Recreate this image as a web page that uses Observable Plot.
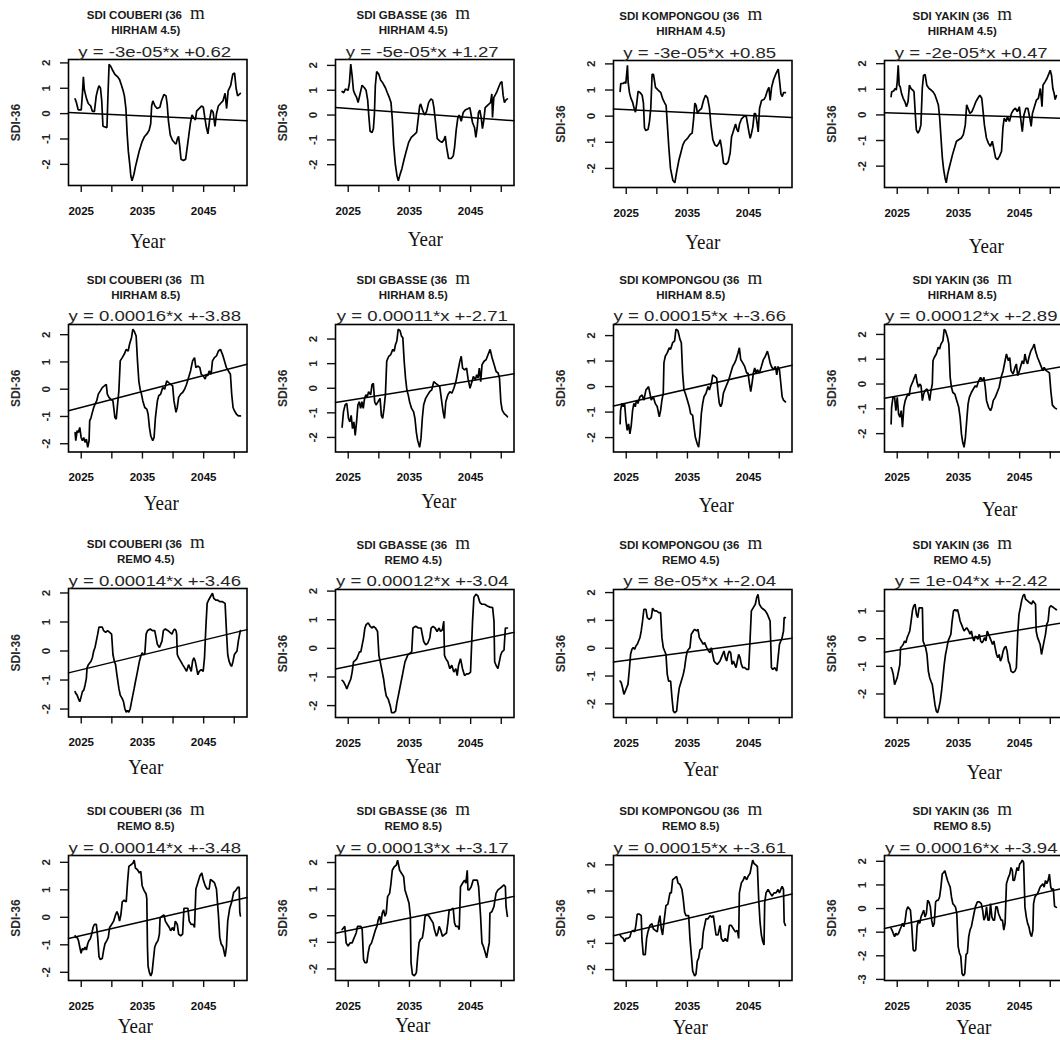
<!DOCTYPE html>
<html>
<head>
<meta charset="utf-8">
<script src="https://cdn.jsdelivr.net/npm/d3@7"></script>
<script src="https://cdn.jsdelivr.net/npm/@observablehq/plot@0.6"></script>
<style>
  html, body { margin: 0; padding: 0; background: #fff; }
  #page { position: relative; width: 1060px; height: 1040px; overflow: hidden; background: #fff; }
  #page > svg { position: absolute; }
  .title { font: bold 11.5px "Liberation Sans", Arial, sans-serif; fill: #1a1a1a; }
  .title .m { font: 19px "Liberation Serif", "Times New Roman", serif; }
  .eq { font: 15px "Liberation Sans", Arial, sans-serif; fill: #262626; }
  .year { font: 19px "Liberation Serif", "Times New Roman", serif; fill: #111; }
</style>
</head>
<body>
<div id="page"></div>
<script>
// SDI-36 projections, 2024-2051: [years since 2024, SDI value]
const START_YEAR = 2024;
const END_YEAR = 2051;

const catchments = ["COUBERI", "GBASSE", "KOMPONGOU", "YAKIN"];
const scenarios = ["HIRHAM 4.5", "HIRHAM 8.5", "REMO 4.5", "REMO 8.5"];

// linear trend per panel, x in days since 1970-01-01
const slopes = [
  [-3e-05, -5e-05, -3e-05, -2e-05],
  [0.00016, 0.00011, 0.00015, 0.00012],
  [0.00014, 0.00012, 8e-05, 1e-04],
  [0.00014, 0.00013, 0.00015, 0.00016]
];
const intercepts = [
  [0.62, 1.27, 0.85, 0.47],
  [-3.88, -2.71, -3.66, -2.89],
  [-3.46, -3.04, -2.04, -2.42],
  [-3.48, -3.17, -3.61, -3.94]
];

const xTickYears = [2025, 2030, 2035, 2040, 2045, 2050];
const xLabelYears = [2025, 2035, 2045];

const couberiHirham45 = [[0,0.58],[0.2,0.45],[0.5,0.15],[1.0,0.15],[1.2,0.8],[1.35,1.45],[1.5,0.95],[1.85,0.6],[2.15,0.4],[2.55,0.3],[2.8,0.1],[3.15,0.08],[3.45,0.7],[3.7,0.95],[3.9,1.1],[4.15,1.0],[4.35,0.5],[4.55,-0.5],[5.2,-0.55],[5.35,0.6],[5.55,1.95],[5.85,1.85],[6.15,1.7],[6.5,1.55],[6.95,1.45],[7.25,1.35],[7.6,1.1],[7.85,0.9],[8.05,0.7],[8.3,0.2],[8.5,-0.8],[8.7,-1.5],[8.95,-2.05],[9.1,-2.45],[9.3,-2.65],[9.6,-2.4],[9.85,-2.1],[10.15,-1.8],[10.5,-1.45],[10.95,-1.1],[11.35,-0.9],[11.8,-0.78],[12.1,-0.65],[12.35,-0.4],[12.5,0.3],[12.7,0.5],[13.05,0.3],[13.4,0.2],[13.85,0.25],[14.1,0.5],[14.5,0.75],[14.85,0.7],[15.05,0.35],[15.25,-0.3],[15.55,-0.85],[15.9,-1.05],[16.25,-1.15],[16.5,-1.2],[16.7,-1.0],[16.9,-0.9],[17.1,-1.3],[17.3,-1.8],[17.7,-1.85],[18.05,-1.8],[18.3,-1.35],[18.55,-0.9],[18.85,-0.35],[19.1,-0.05],[19.35,-0.15],[19.65,-0.25],[19.85,0.1],[20.25,0.2],[20.65,0.3],[20.95,0.25],[21.15,-0.1],[21.45,-0.55],[21.7,-0.8],[22.0,-0.2],[22.25,0.15],[22.55,0.05],[22.85,-0.5],[23.1,0.0],[23.4,0.3],[23.75,0.4],[24.15,0.5],[24.5,0.8],[24.75,0.2],[25.0,0.9],[25.4,1.1],[25.75,1.55],[26.05,1.6],[26.3,1.0],[26.55,0.7],[27.0,0.8]];

const gbasseHirham45 = [[0,0.95],[0.27,0.9],[0.54,1.05],[0.98,1.0],[1.2,1.3],[1.41,2.05],[1.63,1.6],[1.85,1.0],[2.07,0.85],[2.39,0.7],[2.61,0.5],[2.93,0.85],[3.26,1.2],[3.64,1.1],[3.91,1.0],[4.18,0.6],[4.35,0.0],[4.57,-0.65],[4.89,-0.7],[5.11,-0.55],[5.27,0.0],[5.43,1.2],[5.65,1.75],[5.98,1.65],[6.3,1.4],[6.63,1.3],[7.07,1.1],[7.39,0.9],[7.72,0.7],[7.99,0.5],[8.21,-0.2],[8.42,-1.2],[8.7,-2.0],[8.97,-2.45],[9.18,-2.65],[9.46,-2.4],[9.78,-2.15],[10.11,-1.8],[10.43,-1.5],[10.87,-1.1],[11.3,-0.9],[11.74,-0.8],[12.17,-0.7],[12.5,0.0],[12.66,0.35],[12.83,0.45],[13.15,0.2],[13.48,0.0],[13.8,0.15],[14.13,0.5],[14.51,0.65],[14.78,0.6],[15.0,0.3],[15.22,-0.2],[15.54,-0.95],[15.98,-1.05],[16.3,-1.1],[16.63,-1.0],[16.85,-0.85],[17.07,-1.3],[17.39,-1.75],[17.83,-1.75],[18.15,-1.65],[18.37,-1.3],[18.64,-0.6],[18.91,-0.1],[19.13,0.0],[19.46,-0.25],[19.78,0.1],[20.11,0.2],[20.54,0.25],[20.87,0.3],[21.09,0.0],[21.3,-0.3],[21.63,-0.5],[21.85,-0.9],[22.07,-0.5],[22.28,0.1],[22.5,0.2],[22.72,-0.1],[22.93,-0.55],[23.15,-0.2],[23.37,0.3],[23.8,0.4],[24.24,0.5],[24.46,0.85],[24.57,-0.1],[24.78,0.7],[25.22,0.9],[25.54,1.1],[25.87,1.3],[26.09,1.35],[26.3,0.8],[26.52,0.5],[26.74,0.6],[27.0,0.65]];

const kompongouHirham45 = [[0,0.95],[0.11,1.25],[0.49,1.25],[0.76,1.3],[0.93,1.25],[1.2,1.95],[1.31,1.3],[1.53,0.9],[1.74,0.7],[2.02,0.55],[2.29,0.3],[2.51,0.15],[2.72,0.5],[2.94,0.95],[3.27,0.9],[3.6,0.8],[3.81,0.5],[3.98,-0.45],[4.2,-0.55],[4.58,-0.5],[4.8,-0.2],[5.01,0.3],[5.23,1.6],[5.45,1.6],[5.78,1.1],[6.21,1.0],[6.65,0.9],[6.98,0.65],[7.3,0.5],[7.52,0.4],[7.74,-0.4],[7.96,-1.2],[8.23,-2.0],[8.61,-2.45],[8.94,-2.55],[9.26,-2.1],[9.59,-1.7],[9.92,-1.4],[10.25,-1.1],[10.57,-0.95],[11.01,-0.85],[11.44,-0.7],[11.77,-0.65],[11.99,-0.15],[12.21,0.5],[12.43,0.4],[12.64,0.1],[12.86,0.2],[13.3,0.3],[13.62,0.6],[13.95,0.8],[14.28,0.7],[14.6,0.3],[14.82,-0.3],[15.15,-0.9],[15.48,-1.1],[15.8,-1.15],[16.13,-1.05],[16.35,-0.9],[16.57,-1.2],[16.89,-1.8],[17.33,-1.85],[17.66,-1.75],[17.98,-1.4],[18.2,-0.8],[18.53,-0.55],[18.86,-0.3],[19.07,-0.5],[19.29,-0.6],[19.51,-0.3],[19.84,-0.1],[20.27,0.0],[20.6,0.0],[20.82,-0.3],[21.04,-0.6],[21.25,-0.85],[21.47,-0.65],[21.69,-0.4],[21.91,0.1],[22.13,0.1],[22.34,-0.2],[22.56,-0.6],[22.78,0.3],[23.11,0.6],[23.54,0.65],[23.76,0.75],[24.09,1.0],[24.31,1.1],[24.52,0.6],[24.74,1.1],[25.07,1.4],[25.5,1.65],[25.83,1.8],[26.05,1.35],[26.27,0.85],[26.49,0.75],[26.7,0.9],[27.0,0.9]];

const yakinHirham45 = [[0,0.71],[0.09,0.9],[0.41,0.93],[0.62,1.03],[0.84,0.97],[1.0,1.29],[1.16,1.94],[1.32,1.16],[1.48,1.1],[1.7,0.84],[1.97,0.65],[2.24,0.52],[2.51,0.32],[2.77,0.52],[2.99,1.16],[3.26,1.03],[3.53,0.97],[3.74,0.9],[3.96,0.0],[4.12,-0.58],[4.39,-0.71],[4.66,-0.58],[4.87,-0.39],[5.09,1.03],[5.3,1.55],[5.56,1.57],[5.83,1.16],[6.2,1.03],[6.54,0.97],[6.86,0.9],[7.18,0.77],[7.45,0.58],[7.72,0.39],[7.94,-0.13],[8.15,-0.9],[8.37,-1.68],[8.58,-2.13],[8.8,-2.45],[9.01,-2.65],[9.23,-2.32],[9.49,-2.06],[9.76,-1.81],[10.03,-1.55],[10.35,-1.29],[10.68,-1.03],[11.05,-0.97],[11.48,-0.9],[11.8,-0.77],[12.12,-0.39],[12.34,0.39],[12.56,0.26],[12.88,0.06],[13.2,0.13],[13.53,0.32],[13.85,0.52],[14.17,0.65],[14.49,0.77],[14.81,0.65],[15.03,0.13],[15.24,-0.39],[15.57,-0.9],[15.89,-1.1],[16.21,-1.23],[16.53,-1.03],[16.75,-1.29],[17.07,-1.68],[17.39,-1.74],[17.72,-1.61],[18.04,-1.42],[18.26,-0.52],[18.47,-0.13],[18.8,-0.26],[19.01,-0.06],[19.33,-0.26],[19.66,0.06],[19.98,0.19],[20.3,0.26],[20.62,0.13],[20.95,0.32],[21.16,-0.13],[21.43,-0.65],[21.7,0.0],[22.02,0.26],[22.34,0.26],[22.66,-0.13],[22.88,-0.45],[23.09,0.06],[23.41,0.32],[23.74,0.58],[24.06,0.65],[24.38,1.03],[24.65,0.32],[24.81,1.16],[25.14,1.29],[25.46,1.42],[25.78,1.61],[25.99,1.74],[26.2,1.55],[26.42,1.03],[26.63,0.84],[26.8,0.6],[27.0,0.75]];

const couberiHirham85 = [[0,-1.59],[0.11,-1.89],[0.33,-1.52],[0.54,-1.59],[0.76,-1.4],[0.98,-1.77],[1.19,-1.89],[1.41,-1.77],[1.63,-1.95],[1.84,-1.83],[2.06,-2.13],[2.28,-1.89],[2.38,-1.16],[2.6,-1.04],[2.82,-0.85],[3.04,-0.67],[3.25,-0.55],[3.52,-0.43],[3.79,-0.18],[4.12,-0.06],[4.44,0.06],[4.77,0.12],[5.09,0.18],[5.26,-0.18],[5.53,-0.3],[5.85,-0.37],[6.18,-0.43],[6.5,-1.04],[6.72,-1.1],[6.94,-0.55],[7.15,-0.06],[7.37,1.04],[7.7,1.16],[8.02,1.28],[8.35,1.46],[8.67,1.4],[8.89,1.65],[9.21,1.89],[9.43,2.2],[9.65,2.13],[9.97,1.95],[10.19,1.04],[10.41,0.3],[10.62,0.0],[10.84,-0.18],[11.06,-0.43],[11.38,-0.67],[11.71,-0.73],[11.92,-0.91],[12.14,-1.4],[12.36,-1.71],[12.68,-1.89],[12.9,-1.77],[13.12,-1.04],[13.44,-0.43],[13.66,-0.24],[13.98,-0.18],[14.31,0.06],[14.63,0.0],[14.96,0.3],[15.28,0.24],[15.61,0.18],[15.93,0.12],[16.15,-0.43],[16.48,-0.85],[16.69,-0.67],[16.91,-0.3],[17.24,-0.18],[17.56,-0.12],[17.89,0.0],[18.21,0.18],[18.54,0.43],[18.86,0.67],[19.19,1.04],[19.51,1.16],[19.73,0.79],[20.05,0.85],[20.38,0.79],[20.6,0.55],[20.92,0.49],[21.25,0.37],[21.46,0.55],[21.68,0.49],[21.9,0.67],[22.22,0.55],[22.44,1.04],[22.76,1.16],[23.09,1.22],[23.41,1.4],[23.74,1.46],[24.07,1.28],[24.39,1.04],[24.72,0.79],[25.04,0.67],[25.37,0.55],[25.58,-0.18],[25.8,-0.67],[26.02,-0.79],[26.34,-0.91],[26.67,-0.98],[27.0,-0.98]];

const gbasseHirham85 = [[0,-1.58],[0.22,-0.96],[0.49,-0.68],[0.77,-0.62],[1.04,-1.23],[1.26,-1.37],[1.48,-1.1],[1.7,-1.64],[1.92,-1.37],[2.14,-1.92],[2.36,-1.37],[2.58,-0.68],[2.8,-0.55],[3.02,-0.82],[3.23,-0.55],[3.45,-0.82],[3.67,-0.41],[3.89,-0.27],[4.11,-0.34],[4.33,-0.14],[4.66,-0.27],[4.88,0.14],[5.1,0.2],[5.32,-0.55],[5.54,-0.68],[5.87,-0.55],[6.2,-0.41],[6.41,-1.1],[6.63,-1.23],[6.85,-0.82],[7.07,-0.27],[7.29,1.1],[7.62,1.3],[7.95,1.37],[8.28,1.58],[8.5,1.5],[8.72,1.78],[8.94,1.92],[9.16,2.4],[9.48,2.33],[9.7,2.12],[9.92,2.05],[10.14,1.1],[10.36,0.41],[10.58,-0.07],[10.8,-0.27],[11.02,-0.55],[11.35,-0.82],[11.68,-0.96],[11.9,-1.23],[12.12,-1.78],[12.34,-2.12],[12.66,-2.4],[12.88,-2.05],[13.1,-1.23],[13.32,-0.68],[13.65,-0.41],[13.98,-0.27],[14.31,-0.14],[14.64,-0.07],[14.97,0.27],[15.3,0.2],[15.62,0.14],[15.95,0.07],[16.28,-0.55],[16.5,-0.96],[16.72,-1.23],[16.94,-0.55],[17.27,-0.27],[17.6,-0.14],[17.93,-0.2],[18.26,0.0],[18.59,0.27],[18.91,0.68],[19.24,1.1],[19.46,1.3],[19.68,0.82],[20.01,0.75],[20.34,0.82],[20.56,0.41],[20.89,0.0],[21.22,0.27],[21.44,0.48],[21.77,0.34],[21.98,0.55],[22.2,0.41],[22.42,0.82],[22.64,0.27],[22.86,0.96],[23.19,1.1],[23.52,1.16],[23.85,1.37],[24.18,1.58],[24.51,1.23],[24.84,0.96],[25.16,0.68],[25.49,0.62],[25.71,0.41],[25.93,-0.55],[26.15,-0.89],[26.48,-1.03],[26.81,-1.1],[27.0,-1.16]];

const kompongouHirham85 = [[0,-1.46],[0.08,-0.93],[0.29,-0.66],[0.51,-0.79],[0.73,-0.66],[0.95,-1.32],[1.16,-1.72],[1.38,-1.46],[1.6,-1.85],[1.82,-1.52],[2.04,-0.93],[2.25,-0.66],[2.47,-0.79],[2.69,-0.53],[2.91,-0.66],[3.23,-0.4],[3.59,-0.33],[3.89,-0.53],[4.22,-0.13],[4.44,-0.07],[4.65,0.0],[4.87,-0.26],[5.09,-0.53],[5.42,-0.4],[5.74,-0.66],[6.07,-0.79],[6.4,-1.19],[6.62,-0.93],[6.83,-0.53],[7.05,-0.26],[7.16,0.93],[7.38,1.19],[7.7,1.32],[8.03,1.52],[8.25,1.46],[8.58,1.72],[8.9,1.79],[9.12,2.25],[9.45,2.19],[9.78,1.85],[10.0,1.72],[10.21,0.53],[10.43,-0.13],[10.65,-0.26],[10.98,-0.53],[11.3,-0.79],[11.52,-1.06],[11.85,-1.13],[12.07,-1.59],[12.29,-1.99],[12.61,-2.25],[12.83,-2.38],[13.05,-1.85],[13.27,-1.06],[13.49,-0.66],[13.7,-0.4],[14.03,-0.26],[14.36,0.0],[14.58,-0.13],[14.91,0.13],[15.13,0.46],[15.45,0.4],[15.78,0.33],[16.0,-0.26],[16.21,-0.66],[16.43,-0.79],[16.65,-0.66],[16.87,-0.26],[17.08,-0.13],[17.41,0.07],[17.74,0.26],[18.07,0.53],[18.39,0.79],[18.72,0.93],[18.94,1.06],[19.26,1.32],[19.48,1.52],[19.7,1.06],[20.03,0.93],[20.35,0.79],[20.68,0.53],[20.9,0.53],[21.12,0.13],[21.34,-0.2],[21.55,0.13],[21.77,0.53],[21.99,0.73],[22.21,0.53],[22.43,0.66],[22.75,0.53],[23.08,0.79],[23.41,1.06],[23.73,1.19],[24.06,1.39],[24.28,1.19],[24.5,0.93],[24.72,0.79],[25.04,0.66],[25.37,0.79],[25.59,0.46],[25.81,0.79],[26.03,0.66],[26.25,0.13],[26.47,-0.4],[26.69,-0.53],[27.0,-0.6]];

const yakinHirham85 = [[0,-1.61],[0.08,-0.94],[0.3,-0.54],[0.57,-0.54],[0.78,-1.07],[1.0,-0.54],[1.22,-1.21],[1.43,-1.34],[1.65,-1.07],[1.86,-1.74],[2.08,-0.94],[2.3,-0.67],[2.51,-0.54],[2.73,-0.4],[2.95,-0.47],[3.16,-0.13],[3.38,0.0],[3.6,0.13],[3.81,0.27],[4.03,0.4],[4.24,0.07],[4.46,-0.13],[4.68,0.0],[4.89,-0.07],[5.11,-0.67],[5.32,-0.4],[5.54,-0.27],[5.86,-0.2],[6.08,-0.4],[6.3,-0.67],[6.51,-0.27],[6.73,0.0],[6.84,0.94],[7.05,1.07],[7.38,1.21],[7.7,1.48],[7.92,1.41],[8.14,1.61],[8.46,1.74],[8.68,2.21],[8.89,2.15],[9.22,1.88],[9.43,1.61],[9.65,0.27],[9.86,-0.13],[10.08,-0.34],[10.41,-0.4],[10.73,-0.67],[11.05,-0.94],[11.27,-1.34],[11.49,-2.01],[11.7,-2.35],[11.92,-2.55],[12.14,-2.15],[12.35,-1.48],[12.57,-0.81],[12.78,-0.54],[13.11,-0.34],[13.43,-0.2],[13.76,-0.07],[13.97,-0.13],[14.3,0.13],[14.62,0.27],[14.95,0.13],[15.16,0.27],[15.38,-0.13],[15.59,-0.67],[15.92,-0.94],[16.24,-1.07],[16.46,-0.94],[16.68,-0.67],[17.0,-0.54],[17.32,-0.34],[17.65,-0.13],[17.97,0.27],[18.3,0.54],[18.62,0.94],[18.84,1.21],[19.16,0.94],[19.38,1.07],[19.59,0.54],[19.92,0.4],[20.24,0.67],[20.46,0.81],[20.68,0.34],[20.89,0.47],[21.11,0.67],[21.43,0.94],[21.65,0.81],[21.86,1.21],[22.08,0.94],[22.3,0.81],[22.51,1.07],[22.84,1.34],[23.16,1.48],[23.38,1.61],[23.59,1.34],[23.92,1.07],[24.14,0.94],[24.46,0.74],[24.78,0.54],[25.0,0.67],[25.32,0.54],[25.59,0.5],[25.86,0.45],[26.1,-0.3],[26.35,-0.85],[26.7,-0.95],[27.0,-1.0]];

const couberiRemo45 = [[0,-1.4],[0.11,-1.46],[0.33,-1.52],[0.54,-1.64],[0.76,-1.75],[0.98,-1.58],[1.19,-1.4],[1.41,-1.35],[1.63,-1.17],[1.84,-0.94],[1.95,-0.58],[2.17,-0.47],[2.38,-0.41],[2.6,-0.35],[2.82,-0.23],[3.04,0.0],[3.25,0.12],[3.47,0.35],[3.69,0.58],[3.9,0.82],[4.12,0.82],[4.44,0.82],[4.66,0.7],[4.99,0.64],[5.31,0.7],[5.64,0.64],[5.96,0.58],[6.18,-0.12],[6.4,-0.35],[6.61,-0.47],[6.83,-0.82],[7.15,-1.29],[7.37,-1.52],[7.7,-1.64],[7.91,-1.75],[8.13,-1.99],[8.35,-2.11],[8.56,-2.05],[8.78,-2.11],[9.0,-1.99],[9.21,-1.75],[9.43,-1.52],[9.65,-1.29],[9.86,-1.05],[10.08,-0.82],[10.3,-0.58],[10.51,-0.35],[10.73,-0.18],[10.95,-0.06],[11.17,-0.12],[11.38,-0.12],[11.6,0.58],[11.82,0.7],[12.25,0.76],[12.68,0.7],[13.01,0.7],[13.22,0.47],[13.44,0.23],[13.77,0.12],[13.98,0.23],[14.2,0.35],[14.42,0.7],[14.74,0.76],[15.18,0.7],[15.5,0.64],[15.83,0.58],[16.04,0.7],[16.26,0.76],[16.48,0.7],[16.59,0.58],[16.69,-0.12],[16.91,-0.23],[17.24,-0.35],[17.56,-0.47],[17.89,-0.58],[18.21,-0.7],[18.54,-0.47],[18.75,-0.58],[18.97,-0.7],[19.19,-0.35],[19.4,-0.23],[19.62,-0.35],[19.84,-0.58],[20.05,-0.82],[20.27,-0.7],[20.6,-0.64],[20.92,-0.7],[21.14,-0.23],[21.36,0.82],[21.57,1.64],[21.79,1.75],[22.11,1.87],[22.44,1.99],[22.66,1.81],[22.98,1.75],[23.31,1.75],[23.63,1.7],[24.07,1.7],[24.5,1.64],[24.72,0.7],[24.93,-0.12],[25.15,-0.35],[25.37,-0.47],[25.58,-0.53],[25.8,-0.35],[26.02,-0.12],[26.23,-0.06],[26.45,0.0],[26.67,0.35],[26.88,0.58],[27.0,0.7]];

const gbasseRemo45 = [[0,-1.12],[0.22,-1.16],[0.55,-1.3],[0.77,-1.42],[0.98,-1.3],[1.2,-1.18],[1.42,-1.07],[1.64,-0.83],[1.86,-0.47],[2.19,-0.41],[2.4,-0.36],[2.62,-0.24],[2.84,-0.12],[3.06,-0.12],[3.28,0.12],[3.5,0.36],[3.72,0.71],[3.93,0.83],[4.26,0.89],[4.59,0.77],[4.92,0.71],[5.14,0.77],[5.46,0.71],[5.79,0.59],[6.01,-0.24],[6.23,-0.47],[6.45,-0.71],[6.78,-1.07],[7.0,-1.42],[7.21,-1.66],[7.54,-1.78],[7.87,-2.01],[8.09,-2.25],[8.42,-2.25],[8.74,-2.19],[8.96,-1.89],[9.18,-1.66],[9.4,-1.42],[9.62,-1.18],[9.84,-0.95],[10.05,-0.71],[10.27,-0.47],[10.49,-0.36],[10.71,-0.24],[11.04,-0.18],[11.37,-0.12],[11.58,0.71],[12.02,0.77],[12.46,0.71],[12.9,0.71],[13.11,0.47],[13.33,0.24],[13.66,0.12],[13.99,0.18],[14.32,0.36],[14.54,0.71],[14.86,0.77],[15.19,0.71],[15.52,0.59],[15.85,0.71],[16.07,0.59],[16.39,0.65],[16.61,0.95],[16.72,-0.24],[16.94,-0.36],[17.27,-0.47],[17.6,-0.71],[17.92,-0.59],[18.25,-0.83],[18.58,-0.71],[18.8,-0.95],[19.02,-0.59],[19.34,-0.36],[19.67,-0.71],[20.0,-0.95],[20.33,-0.89],[20.66,-0.89],[20.98,-0.83],[21.31,0.95],[21.53,1.78],[21.86,1.89],[22.19,1.83],[22.51,1.6],[22.84,1.54],[23.28,1.54],[23.72,1.48],[24.15,1.44],[24.59,1.42],[24.81,0.95],[24.92,-0.47],[25.14,-0.59],[25.46,-0.71],[25.68,-0.47],[25.9,-0.24],[26.12,-0.12],[26.45,-0.06],[26.67,0.71],[27.0,0.71]];

const kompongouRemo45 = [[0,-1.18],[0.19,-1.24],[0.4,-1.42],[0.62,-1.66],[0.84,-1.54],[1.06,-1.42],[1.28,-1.3],[1.49,-0.82],[1.71,-0.22],[1.93,-0.04],[2.15,0.02],[2.37,-0.04],[2.58,0.08],[2.8,0.14],[3.02,0.26],[3.24,0.38],[3.45,0.62],[3.67,0.98],[3.89,1.4],[4.22,1.4],[4.44,1.1],[4.76,1.04],[5.09,1.1],[5.31,1.44],[5.63,1.34],[5.96,1.34],[6.29,1.28],[6.61,1.28],[6.83,0.38],[7.05,0.02],[7.27,-0.1],[7.49,-0.22],[7.7,-0.94],[7.92,-1.18],[8.25,-1.18],[8.47,-1.78],[8.69,-2.26],[8.9,-2.32],[9.23,-2.26],[9.45,-1.78],[9.67,-1.42],[10.0,-1.18],[10.32,-0.94],[10.54,-0.7],[10.76,-0.34],[10.98,-0.1],[11.19,-0.04],[11.41,0.02],[11.63,0.5],[11.96,0.62],[12.17,0.68],[12.5,0.62],[12.72,0.68],[12.94,0.38],[13.27,0.26],[13.59,0.14],[13.81,0.2],[14.14,0.02],[14.46,-0.1],[14.68,-0.16],[14.9,0.02],[15.12,-0.22],[15.34,-0.46],[15.55,-0.52],[15.88,-0.58],[16.1,-0.52],[16.32,-0.46],[16.53,-0.34],[16.75,-0.22],[16.97,-0.1],[17.19,-0.34],[17.41,-0.46],[17.63,-0.22],[17.84,-0.1],[18.06,-0.16],[18.28,-0.58],[18.5,-0.46],[18.72,-0.58],[18.94,-0.7],[19.15,-0.46],[19.37,-0.22],[19.59,-0.34],[19.81,-0.58],[20.03,-0.7],[20.35,-0.7],[20.68,-0.76],[21.0,-0.76],[21.22,0.26],[21.44,1.34],[21.76,1.46],[22.09,1.58],[22.31,1.82],[22.53,1.94],[22.75,1.58],[23.08,1.46],[23.41,1.4],[23.73,1.34],[24.06,1.22],[24.28,1.1],[24.5,0.98],[24.72,-0.7],[24.94,-0.76],[25.26,-0.7],[25.59,-0.82],[25.81,-0.34],[26.03,0.14],[26.25,0.26],[26.47,0.38],[26.69,0.62],[26.8,1.1],[27.0,1.1]];

const yakinRemo45 = [[0,-1.05],[0.14,-1.11],[0.35,-1.29],[0.57,-1.66],[0.78,-1.54],[1.0,-1.41],[1.22,-1.17],[1.43,-0.93],[1.54,-0.33],[1.76,-0.27],[1.97,-0.21],[2.19,-0.08],[2.41,-0.15],[2.62,0.04],[2.84,0.16],[3.05,0.28],[3.27,0.64],[3.49,1.02],[3.7,1.19],[3.92,1.25],[4.14,0.88],[4.35,0.76],[4.57,1.12],[4.89,1.12],[5.11,1.12],[5.22,-0.08],[5.43,-0.21],[5.65,-0.33],[5.86,-0.57],[6.08,-1.17],[6.3,-1.41],[6.51,-1.54],[6.73,-1.66],[6.95,-2.02],[7.16,-2.38],[7.38,-2.62],[7.59,-2.68],[7.81,-2.5],[8.03,-2.26],[8.24,-1.9],[8.46,-1.41],[8.68,-0.93],[8.89,-0.57],[9.11,-0.33],[9.32,-0.08],[9.54,0.04],[9.76,0.16],[9.97,0.64],[10.19,1.0],[10.41,1.06],[10.62,1.0],[10.84,1.06],[11.05,0.88],[11.27,0.64],[11.49,0.52],[11.7,0.4],[11.92,0.28],[12.14,0.34],[12.35,0.4],[12.68,0.28],[12.89,0.16],[13.11,0.28],[13.32,0.04],[13.54,-0.08],[13.76,0.1],[13.97,0.04],[14.19,-0.02],[14.41,0.16],[14.62,-0.08],[14.84,-0.15],[15.05,-0.08],[15.27,0.04],[15.49,-0.08],[15.7,0.28],[15.92,0.16],[16.14,0.04],[16.35,-0.08],[16.57,-0.21],[16.78,-0.08],[17.0,-0.33],[17.22,-0.57],[17.43,-0.69],[17.65,-0.57],[17.86,-0.81],[18.08,-0.69],[18.3,-0.45],[18.51,-0.33],[18.73,-0.27],[18.95,-0.45],[19.16,-0.81],[19.38,-0.93],[19.59,-1.17],[19.92,-1.23],[20.24,-1.17],[20.46,-1.05],[20.68,0.16],[20.89,0.88],[21.11,1.12],[21.32,1.37],[21.54,1.55],[21.76,1.61],[21.97,1.43],[22.3,1.37],[22.62,1.31],[22.95,1.25],[23.16,1.37],[23.38,1.31],[23.59,1.25],[23.7,0.28],[23.92,0.04],[24.14,-0.08],[24.35,-0.21],[24.57,-0.57],[24.78,-0.33],[25.0,-0.08],[25.22,0.16],[25.43,0.52],[25.65,0.64],[25.86,1.12],[26.08,1.19],[26.4,1.15],[26.7,1.1],[27.0,1.05]];

const couberiRemo85 = [[0,-0.67],[0.11,-0.73],[0.33,-0.73],[0.54,-0.84],[0.76,-1.08],[0.98,-1.31],[1.19,-1.13],[1.41,-1.19],[1.63,-1.08],[1.84,-1.19],[2.06,-0.96],[2.28,-0.84],[2.49,-0.78],[2.71,-0.61],[2.93,-0.37],[3.14,-0.26],[3.47,-0.26],[3.69,-0.73],[3.9,-1.43],[4.12,-1.54],[4.44,-1.49],[4.66,-1.19],[4.88,-0.96],[5.2,-0.84],[5.42,-0.73],[5.64,-0.37],[5.96,-0.26],[6.29,-0.14],[6.61,0.09],[6.83,0.21],[7.05,0.09],[7.26,-0.14],[7.48,0.09],[7.7,0.56],[8.02,0.62],[8.35,0.56],[8.56,1.26],[8.78,1.85],[9.11,1.91],[9.43,1.96],[9.65,2.08],[9.86,1.79],[10.19,1.73],[10.51,1.61],[10.73,1.67],[10.95,1.15],[11.27,0.97],[11.6,0.85],[11.71,0.68],[11.82,-1.08],[11.92,-1.78],[12.14,-2.01],[12.36,-2.13],[12.57,-2.01],[12.79,-1.54],[13.01,-1.08],[13.22,-0.96],[13.55,-0.84],[13.77,-0.61],[13.88,-0.02],[14.2,0.04],[14.53,0.09],[14.74,-0.14],[15.07,-0.26],[15.39,-0.37],[15.61,-0.49],[15.93,-0.37],[16.15,-0.49],[16.37,-0.14],[16.69,-0.26],[16.91,-0.61],[17.24,-0.67],[17.56,-0.61],[17.78,0.33],[18.1,0.33],[18.43,0.33],[18.64,-0.14],[18.97,-0.26],[19.3,-0.26],[19.51,-0.37],[19.73,1.03],[20.05,1.26],[20.38,1.5],[20.7,1.61],[20.92,1.38],[21.25,1.15],[21.57,1.03],[21.9,1.03],[22.11,1.38],[22.44,1.32],[22.76,1.26],[23.09,1.03],[23.41,0.09],[23.63,-0.73],[23.85,-0.96],[24.17,-1.08],[24.5,-1.43],[24.72,-1.08],[24.93,-0.14],[25.26,0.33],[25.58,0.56],[25.91,0.91],[26.23,0.97],[26.56,1.09],[26.8,1.1],[26.9,0.2],[27.0,0.05]];

const gbasseRemo85 = [[0,-0.52],[0.22,-0.46],[0.44,-0.4],[0.66,-1.02],[0.98,-1.14],[1.31,-1.02],[1.64,-1.02],[1.86,-0.89],[2.08,-0.77],[2.3,-0.65],[2.51,-0.4],[2.73,-0.4],[3.06,-0.4],[3.28,-0.52],[3.5,-1.64],[3.72,-1.76],[4.04,-1.76],[4.26,-1.39],[4.48,-1.14],[4.81,-1.02],[5.14,-0.77],[5.46,-0.52],[5.68,-0.4],[5.9,-0.15],[6.12,-0.02],[6.34,-0.27],[6.56,0.1],[6.78,0.22],[7.0,-0.02],[7.21,0.1],[7.43,0.72],[7.76,0.84],[7.98,1.22],[8.2,1.71],[8.52,1.84],[8.85,1.9],[9.07,2.09],[9.4,1.71],[9.73,1.59],[10.05,1.47],[10.27,0.97],[10.6,0.72],[10.93,0.47],[11.15,-0.02],[11.26,-1.76],[11.48,-2.2],[11.8,-2.26],[12.13,-2.14],[12.35,-1.52],[12.57,-1.02],[12.79,-0.89],[13.11,-0.83],[13.33,-0.52],[13.55,-0.02],[13.88,0.04],[14.21,-0.02],[14.54,-0.15],[14.86,-0.27],[15.08,-0.52],[15.41,-0.77],[15.63,-0.65],[15.85,-0.4],[16.07,-0.52],[16.39,-0.77],[16.72,-0.71],[17.05,-0.65],[17.27,-0.27],[17.49,0.22],[17.81,0.22],[18.14,0.29],[18.36,-0.27],[18.58,-0.4],[18.91,-0.4],[19.13,-0.52],[19.34,1.09],[19.67,1.22],[20.0,1.34],[20.22,1.22],[20.44,1.71],[20.55,0.97],[20.77,0.97],[21.09,1.09],[21.42,1.34],[21.75,1.34],[22.08,1.34],[22.3,1.09],[22.62,-0.02],[22.84,-1.02],[23.06,-1.14],[23.39,-1.39],[23.61,-1.58],[23.83,-1.27],[24.04,-1.02],[24.15,0.1],[24.48,0.16],[24.81,0.35],[25.14,0.84],[25.46,0.97],[25.79,1.03],[26.12,1.09],[26.45,1.16],[26.67,1.09],[26.78,0.35],[27.0,-0.02]];

const kompongouRemo85 = [[0,-0.68],[0.19,-0.75],[0.51,-0.81],[0.73,-0.93],[0.95,-0.81],[1.28,-0.81],[1.6,-0.75],[1.82,-0.56],[2.15,-0.5],[2.37,-0.56],[2.58,-0.31],[2.8,0.12],[3.13,0.12],[3.45,0.06],[3.56,-0.81],[3.78,-1.43],[4.11,-1.43],[4.33,-0.81],[4.54,-0.56],[4.87,-0.31],[5.2,-0.25],[5.42,-0.44],[5.74,-0.5],[6.07,-0.56],[6.29,-0.19],[6.51,0.06],[6.72,-0.44],[6.94,-0.68],[7.16,-0.19],[7.49,0.44],[7.81,0.5],[8.14,0.93],[8.36,0.93],[8.58,1.43],[8.9,1.49],[9.23,1.56],[9.45,1.31],[9.78,1.25],[10.1,1.06],[10.32,0.68],[10.54,0.19],[10.76,0.06],[11.2,0.06],[11.41,-0.81],[11.63,-1.43],[11.85,-2.05],[12.17,-2.24],[12.39,-2.18],[12.61,-1.68],[12.83,-1.56],[13.05,-1.25],[13.38,-1.18],[13.59,-0.56],[13.81,-0.31],[14.03,-0.06],[14.36,-0.06],[14.69,0.06],[15.01,0.0],[15.23,0.06],[15.45,-0.31],[15.67,-0.68],[15.99,-0.68],[16.32,-0.31],[16.54,-0.81],[16.87,-0.93],[17.19,-0.81],[17.52,-0.93],[17.85,-0.31],[18.17,-0.31],[18.5,-0.44],[18.83,-0.56],[19.15,-0.5],[19.37,-0.81],[19.48,0.93],[19.81,1.31],[20.14,1.43],[20.35,1.56],[20.68,1.43],[20.9,1.56],[21.23,1.68],[21.44,1.93],[21.66,2.18],[21.88,2.05],[22.21,1.99],[22.43,1.93],[22.64,0.68],[22.86,-0.19],[23.08,-0.68],[23.3,-0.93],[23.51,-1.06],[23.62,0.56],[23.84,0.93],[24.17,1.06],[24.49,0.93],[24.82,0.81],[25.15,0.93],[25.47,0.93],[25.8,1.06],[26.03,0.93],[26.25,1.06],[26.47,1.18],[26.69,1.06],[26.8,-0.19],[27.0,-0.31]];

const yakinRemo85 = [[0,-0.84],[0.14,-0.91],[0.35,-1.05],[0.57,-1.19],[0.78,-1.05],[1.0,-1.12],[1.22,-1.05],[1.43,-0.91],[1.65,-0.77],[1.86,-0.63],[2.08,-0.77],[2.3,-0.49],[2.51,-0.07],[2.73,0.07],[2.95,0.0],[3.16,-0.07],[3.38,-0.77],[3.6,-1.74],[3.81,-1.81],[4.03,-1.74],[4.24,-0.77],[4.46,-0.49],[4.68,-0.63],[4.89,-0.35],[5.11,-0.21],[5.32,-0.07],[5.54,-0.35],[5.76,-0.21],[5.97,0.35],[6.19,0.28],[6.41,0.07],[6.62,-0.49],[6.84,-0.77],[7.05,-0.63],[7.27,0.28],[7.49,0.35],[7.7,0.35],[7.92,0.49],[8.14,0.91],[8.35,1.46],[8.57,1.53],[8.78,1.6],[9.0,1.39],[9.22,1.19],[9.43,1.05],[9.65,0.91],[9.86,0.49],[10.08,0.21],[10.3,0.14],[10.51,0.07],[10.73,-0.21],[10.95,-1.6],[11.16,-1.88],[11.38,-2.02],[11.59,-2.75],[11.81,-2.85],[12.03,-2.75],[12.24,-1.95],[12.46,-1.88],[12.68,-1.19],[12.89,-0.91],[13.11,-0.77],[13.32,-0.49],[13.54,-0.21],[13.76,0.07],[14.08,0.28],[14.41,0.28],[14.73,0.21],[14.95,-0.07],[15.16,-0.49],[15.38,-0.35],[15.59,0.07],[15.81,-0.49],[16.03,-0.49],[16.24,0.21],[16.46,-0.35],[16.68,-0.49],[16.89,-0.49],[17.11,0.07],[17.32,0.07],[17.54,-0.21],[17.76,-0.35],[17.97,-0.49],[18.19,-0.49],[18.41,-0.91],[18.62,-0.63],[18.84,1.05],[19.16,1.32],[19.38,1.46],[19.59,1.74],[19.81,1.6],[19.92,1.19],[20.14,1.19],[20.35,1.46],[20.57,1.74],[20.78,1.6],[21.0,1.88],[21.22,1.95],[21.43,2.05],[21.65,1.95],[21.86,0.07],[22.08,-0.35],[22.3,-0.63],[22.51,-0.77],[22.73,-1.05],[22.95,-1.19],[23.16,-0.91],[23.27,0.21],[23.49,0.49],[23.7,0.56],[23.92,0.63],[24.14,0.77],[24.35,0.91],[24.57,0.98],[24.78,1.05],[25.0,0.91],[25.22,1.19],[25.43,1.05],[25.65,1.19],[25.86,1.46],[26.08,0.91],[26.3,0.77],[26.5,0.85],[26.7,0.1],[27.0,0.05]];

const series = [
  [couberiHirham45, gbasseHirham45, kompongouHirham45, yakinHirham45],
  [couberiHirham85, gbasseHirham85, kompongouHirham85, yakinHirham85],
  [couberiRemo45, gbasseRemo45, kompongouRemo45, yakinRemo45],
  [couberiRemo85, gbasseRemo85, kompongouRemo85, yakinRemo85]
];

// page layout: plot-box edges per row/column
const boxLeft = [67.5, 335, 612.5, 884];
const boxWidth = 178.5;
const boxTop = [[59, 59, 60, 60], [323.5, 323.5, 323.5, 323.5], [588, 588.5, 588.5, 588.5], [855, 855, 855, 855]];
const boxBottom = [[185, 185, 187, 187], [451, 451, 451, 451], [716.5, 716.5, 716.5, 716.5], [980, 980, 980, 980]];
const yearCenterY = [[241, 239, 242, 246], [503, 501, 505, 509], [767, 766, 769, 772], [1026, 1025, 1027, 1027]];
const yearShiftCol = [-10, 0, 0, 12];
const yearShiftRow = [1, 14.5, -1, -11.5];

// R-style number formatting: scientific when it is shorter
function rNum(v) {
  const fixed = String(v);
  const sci = v.toExponential().replace(/e([+-])(\d)$/, "e$10$2");
  return sci.length < fixed.length ? sci : fixed;
}

const toDays = yr => (yr - 1970) * 365.25;
const page = d3.select("#page");

function drawPanel(r, c) {
  const pts = series[r][c].map(([t, v]) => ({year: START_YEAR + t, value: v}));
  const span = END_YEAR - START_YEAR;
  const xDom = [START_YEAR - 0.04 * span, END_YEAR + 0.04 * span];
  const [lo, hi] = d3.extent(pts, d => d.value);
  const pad = 0.04 * (hi - lo);
  const yDom = [lo - pad, hi + pad];
  const yTicks = d3.range(Math.ceil(yDom[0]), Math.floor(yDom[1]) + 1);
  const a = slopes[r][c], b = intercepts[r][c];
  const fit = xDom.map(x => ({year: x, value: a * toDays(x) + b}));

  const L = boxLeft[c], T = boxTop[r][c], H = boxBottom[r][c] - T, W = boxWidth;
  const ml = 64, mt = 4, mr = 6, mb = 40;

  const chart = Plot.plot({
    width: W + ml + mr,
    height: H + mt + mb,
    marginLeft: ml, marginTop: mt, marginRight: mr, marginBottom: mb,
    x: {domain: xDom},
    y: {domain: yDom},
    style: {background: "transparent", color: "#111", fontFamily: "'Liberation Sans', Arial, sans-serif", fontSize: "11.5px", fontWeight: "bold", overflow: "visible"},
    marks: [
      Plot.axisX({ticks: xTickYears, tickSize: 7, tickPadding: 14, strokeWidth: 1.4, label: null,
        tickFormat: d => xLabelYears.includes(d) ? String(d) : ""}),
      Plot.axisY({ticks: yTicks, tickSize: 8, strokeWidth: 1.4, label: null, tickFormat: () => ""}),
      Plot.text(yTicks, {y: d => d, frameAnchor: "left", text: d => String(d), rotate: -90, dx: -22.5,
        textAnchor: "middle", lineAnchor: "middle", fill: "#222"}),
      Plot.text(["SDI-36"], {frameAnchor: "left", text: d => d, rotate: -90, dx: -52,
        textAnchor: "middle", lineAnchor: "middle", fontSize: 12, fill: "#2a2a2a"}),
      Plot.frame({stroke: "#000", strokeWidth: 1.6}),
      Plot.line(fit, {x: "year", y: "value", stroke: "#000", strokeWidth: 1.5}),
      Plot.line(pts, {x: "year", y: "value", stroke: "#000", strokeWidth: 1.7, strokeLinejoin: "miter"})
    ]
  });
  chart.style.left = (L - ml) + "px";
  chart.style.top = (T - mt) + "px";
  page.node().appendChild(chart);
}

for (let r = 0; r < 4; r++) for (let c = 0; c < 4; c++) drawPanel(r, c);

// titles, trend equations and axis titles
const overlay = page.append("svg")
  .attr("width", 1060).attr("height", 1040)
  .style("left", "0px").style("top", "0px");

for (let r = 0; r < 4; r++) {
  for (let c = 0; c < 4; c++) {
    const T = boxTop[r][c];
    const cx = boxLeft[c] + boxWidth / 2;
    const t1 = overlay.append("text").attr("class", "title")
      .attr("x", cx - 11).attr("y", T - 40).attr("text-anchor", "middle");
    t1.append("tspan").text(`SDI ${catchments[c]} (36`);
    t1.append("tspan").attr("class", "m").attr("dx", 8).text("m");
    overlay.append("text").attr("class", "title")
      .attr("x", cx - 11).attr("y", T - 25).attr("text-anchor", "middle")
      .text(`${scenarios[r]})`);
    overlay.append("text").attr("class", "eq")
      .attr("transform", `translate(${cx - 2},${T - 2.5}) scale(1.24,1)`)
      .attr("text-anchor", "middle")
      .text(`y = ${rNum(slopes[r][c])}*x +${intercepts[r][c]}`);
    overlay.append("text").attr("class", "year")
      .attr("transform", `translate(${cx + yearShiftCol[c] + yearShiftRow[r]},${yearCenterY[r][c] + 7}) scale(1,1.15)`)
      .attr("text-anchor", "middle")
      .text("Year");
  }
}
</script>
</body>
</html>
